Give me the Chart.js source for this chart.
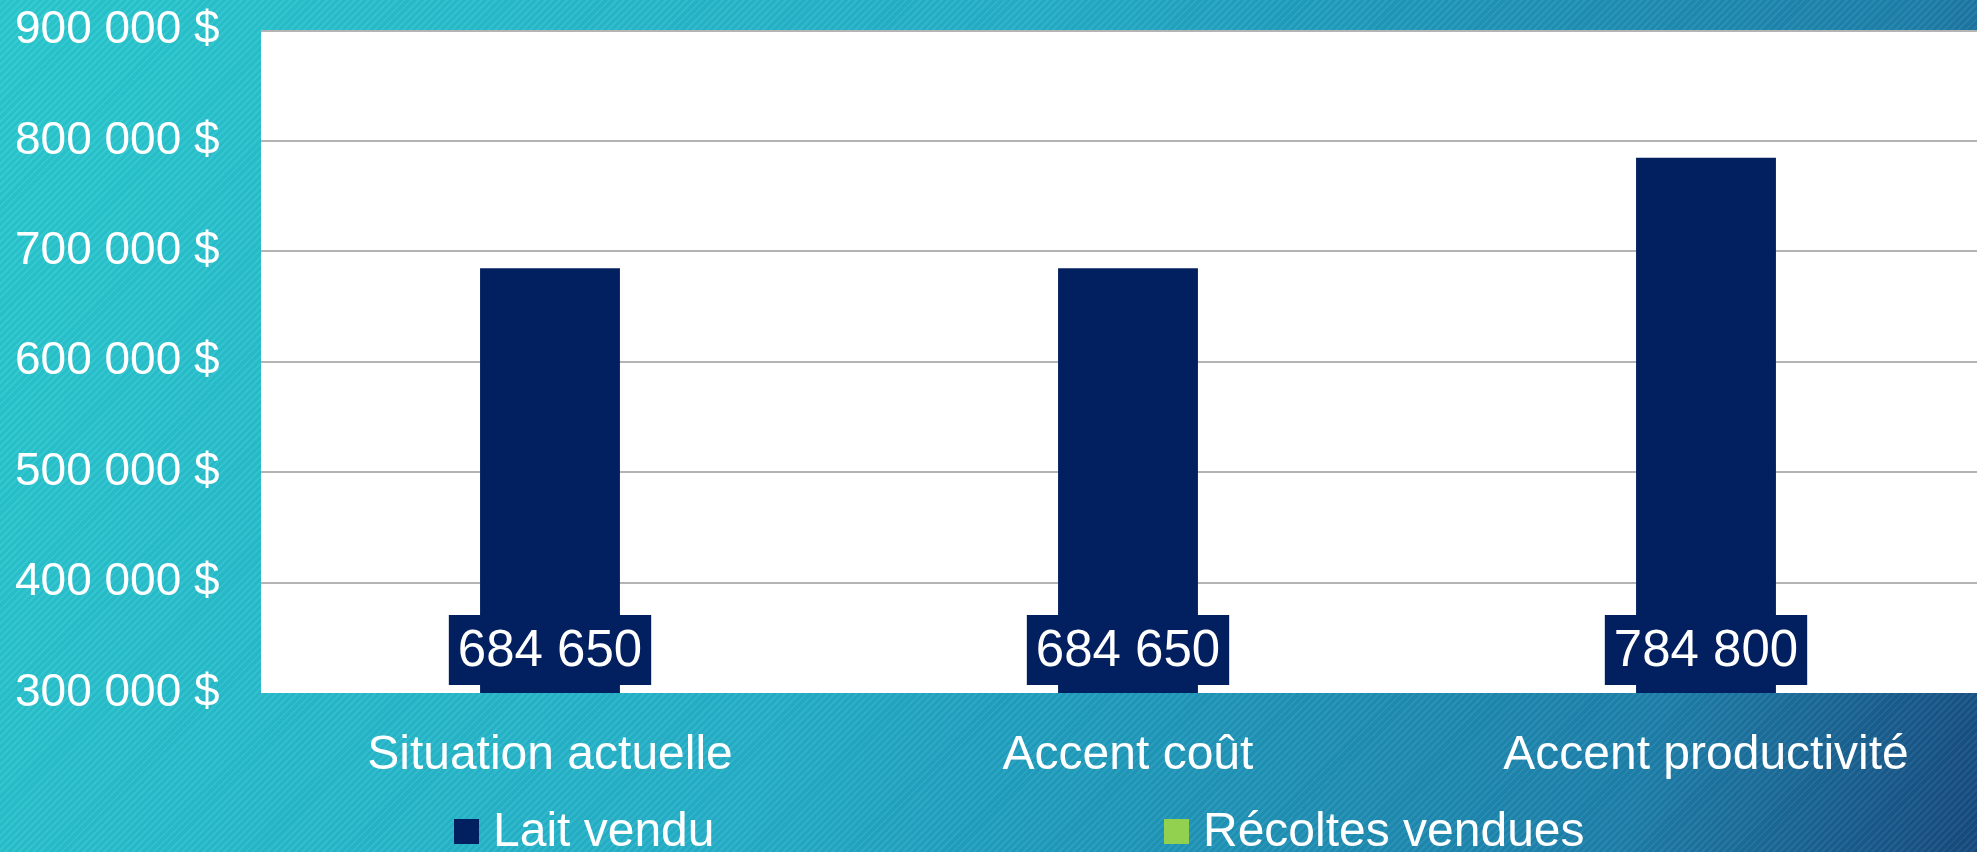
<!DOCTYPE html>
<html lang="fr">
<head>
<meta charset="utf-8">
<title>Revenus</title>
<script src="https://cdn.jsdelivr.net/npm/chart.js@4.4.1/dist/chart.umd.min.js"></script>
<style>
    html, body {
        margin: 0;
        padding: 0;
        width: 1977px;
        height: 852px;
        overflow: hidden;
    }
    body {
        background:
            repeating-linear-gradient(135deg, rgba(255,255,255,0.05) 0px, rgba(255,255,255,0.05) 2px, rgba(0,0,0,0.03) 2px, rgba(0,0,0,0.03) 5px),
            linear-gradient(110deg, #2ac9cf 0%, #25afc8 45%, #21a0c0 56%, #1e80aa 84%, #174a7e 100%);
    }
    #chart-box {
        width: 1995px;
        height: 852px;
    }
</style>
</head>
<body>
<div id="chart-box">
    <canvas id="revenus-chart" width="1995" height="852"></canvas>
</div>
<script>
const categories = ['Situation actuelle', 'Accent coût', 'Accent productivité'];
const laitVendu = [684650, 684650, 784800];
const recoltesVendues = [0, 0, 0];
const seriesNames = ['Lait vendu', 'Récoltes vendues'];
const seriesColors = ['#02205f', '#92d050'];
const yTicks = [300000, 400000, 500000, 600000, 700000, 800000, 900000];

const FONT = "'Liberation Sans', Arial, sans-serif";

// 684650 -> "684 650"
function spaced(n) {
    return String(n).replace(/\B(?=(\d{3})+(?!\d))/g, ' ');
}

// white plot area behind grid and bars
const plotBackground = {
    id: 'plotBackground',
    beforeDraw(chart) {
        const {ctx, chartArea} = chart;
        ctx.save();
        ctx.fillStyle = '#ffffff';
        ctx.fillRect(chartArea.left, chartArea.top, chartArea.right - chartArea.left, chartArea.bottom - chartArea.top);
        ctx.restore();
    }
};

// value boxes sitting at the foot of each milk bar
const baseLabels = {
    id: 'baseLabels',
    afterDatasetsDraw(chart) {
        const {ctx, chartArea} = chart;
        const meta = chart.getDatasetMeta(0);
        ctx.save();
        ctx.font = '51px ' + FONT;
        ctx.textAlign = 'center';
        ctx.textBaseline = 'middle';
        meta.data.forEach((bar, i) => {
            const text = spaced(chart.data.datasets[0].data[i]);
            const w = ctx.measureText(text).width + 18;
            const h = 70;
            // the bar base sits below the axis minimum, so clamp to the plot bottom
            const bottom = Math.min(bar.base, chartArea.bottom) - 8;
            ctx.fillStyle = seriesColors[0];
            ctx.fillRect(bar.x - w / 2, bottom - h, w, h);
            ctx.fillStyle = '#ffffff';
            ctx.fillText(text, bar.x, bottom - h / 2 + 2);
        });
        ctx.restore();
    }
};

// legend laid out in wide columns along the bottom
const columnLegend = {
    id: 'columnLegend',
    afterDraw(chart) {
        const {ctx} = chart;
        const start = 454, colWidth = 710, midY = 831;
        ctx.save();
        ctx.font = '48px ' + FONT;
        ctx.textBaseline = 'middle';
        ctx.textAlign = 'left';
        chart.data.datasets.forEach((ds, i) => {
            const x = start + i * colWidth;
            ctx.fillStyle = ds.backgroundColor;
            ctx.fillRect(x, midY - 12, 25, 25);
            ctx.fillStyle = '#ffffff';
            ctx.fillText(ds.label, x + 39, midY + 2);
        });
        ctx.restore();
    }
};

const ctx = document.getElementById('revenus-chart').getContext('2d');
const chart = new Chart(ctx, {
    type: 'bar',
    data: {
        labels: categories,
        datasets: [{
            label: seriesNames[0],
            data: laitVendu,
            backgroundColor: seriesColors[0],
            borderWidth: 0,
            categoryPercentage: 1,
            barPercentage: 0.242
        }, {
            label: seriesNames[1],
            data: recoltesVendues,
            backgroundColor: seriesColors[1],
            borderWidth: 0,
            categoryPercentage: 1,
            barPercentage: 0.242
        }]
    },
    options: {
        responsive: false,
        animation: false,
        devicePixelRatio: 1,
        layout: {
            padding: {left: 15, top: 30, right: 0, bottom: 0}
        },
        scales: {
            x: {
                stacked: true,
                grid: {display: false},
                border: {display: false},
                ticks: {
                    color: '#ffffff',
                    font: {family: FONT, size: 48},
                    padding: 26
                },
                afterFit(scale) {
                    scale.height = 159;
                }
            },
            y: {
                stacked: true,
                min: yTicks[0],
                max: yTicks[yTicks.length - 1],
                grid: {
                    // no rule along the axis minimum
                    color: c => (c.tick && c.tick.value === yTicks[0]) ? 'rgba(0,0,0,0)' : '#b4b4b4',
                    lineWidth: 2,
                    drawTicks: false
                },
                border: {display: false},
                afterBuildTicks(scale) {
                    scale.ticks = yTicks.map(v => ({value: v}));
                },
                ticks: {
                    color: '#ffffff',
                    font: {family: FONT, size: 46},
                    crossAlign: 'far',
                    callback: value => spaced(value) + ' $'
                },
                afterFit(scale) {
                    scale.width = 246;
                }
            }
        },
        plugins: {
            legend: {display: false},
            tooltip: {enabled: false}
        }
    },
    plugins: [plotBackground, baseLabels, columnLegend]
});
</script>
</body>
</html>
